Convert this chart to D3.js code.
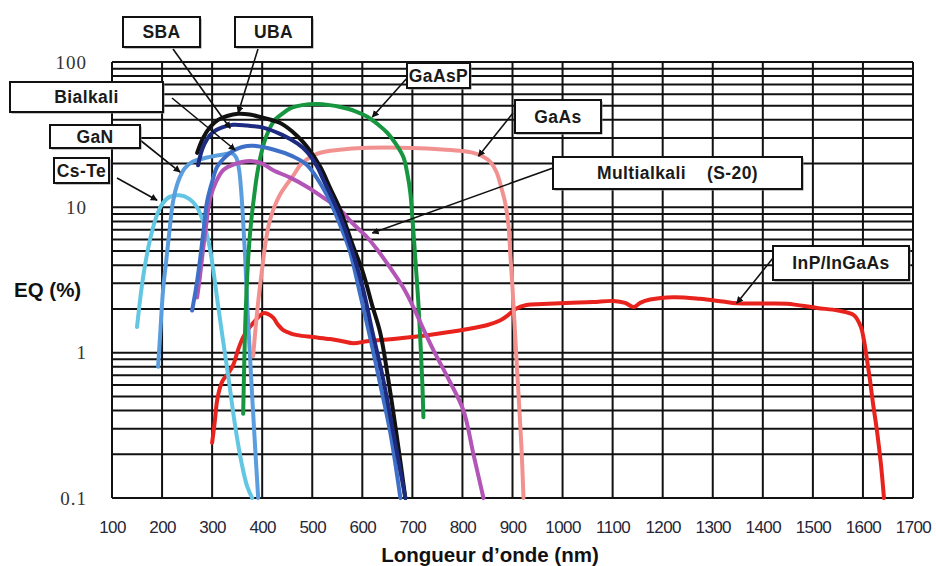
<!DOCTYPE html>
<html>
<head>
<meta charset="utf-8">
<script src="https://cdnjs.cloudflare.com/ajax/libs/d3/7.8.5/d3.min.js"></script>
<style>
  body { margin: 0; background: #fff; }
  svg { display: block; }
  .boxText { font-family: "Liberation Sans", Arial, sans-serif; font-size: 17.5px; font-weight: bold; letter-spacing: 0.4px; fill: #1a1a1a; white-space: pre; }
</style>
</head>
<body>
<div class="article"></div>
<script>
// quantum efficiency curves, [wavelength nm, QE %]
var uba = [[270,23.7],[282,30],[296,35.7],[312,40],[330,42.5],[352,44],[375,43.5],[396,41.8],[436,38],[470,31],[490,26],[516,19],[536,13.5],[556,9.6],[580,5.6],[602,3.5],[620,2.1],[636,1.36],[652,0.65],[668,0.28],[686,0.1]];
var sba = [[272,19.5],[280,25],[290,29.5],[302,33],[320,35.5],[342,37],[370,36.5],[400,35.5],[440,31.5],[470,27.5],[490,24],[510,19],[522,15.5],[540,11.5],[556,8.6],[580,5],[602,2.7],[620,1.4],[640,0.7],[662,0.28],[686,0.1]];
var bialkali = [[260,1.95],[268,2.8],[276,4.4],[283,7],[290,11],[300,15],[310,19],[325,22],[342,24.5],[360,26],[382,26.5],[422,25],[460,22.5],[490,19.5],[522,13.5],[540,10.2],[556,7.5],[575,5],[596,2.5],[615,1.3],[636,0.6],[656,0.28],[676,0.1]];
var gan = [[192,0.8],[196,1.3],[202,2.7],[208,4.2],[214,6.5],[222,11],[232,15],[245,18.5],[260,20.5],[290,22],[320,23],[340,23.5],[348,22],[354,18],[358,13],[362,8],[366,4.5],[370,2.2],[374,1.2],[380,0.5],[386,0.22],[392,0.1]];
var csTe = [[150,1.5],[158,2.6],[166,4],[176,6],[188,8.5],[200,10.5],[215,11.8],[235,12.1],[255,11.4],[270,10],[282,8],[292,6],[300,4.2],[312,2.1],[322,1.2],[332,0.7],[345,0.33],[358,0.18],[370,0.12],[380,0.1]];
var multialkali = [[270,2.4],[275,3.2],[280,4.5],[288,7.5],[296,11.5],[308,15],[322,18],[345,19.8],[376,20.8],[400,20],[422,18],[456,16],[490,13.8],[520,11.8],[556,9.6],[580,7.8],[610,6.2],[630,5.1],[650,4.1],[682,2.8],[702,2.06],[722,1.45],[742,1.04],[772,0.66],[802,0.4],[822,0.2],[842,0.1]];
var gaasp = [[362,0.38],[364,0.8],[366,1.5],[369,2.8],[373,5],[378,8],[384,12],[390,17],[400,25],[410,32],[424,39.5],[440,44],[456,48],[480,50.5],[510,51.4],[535,50.5],[556,49],[585,46],[610,42],[632,37],[650,32.5],[668,27],[682,22.2],[690,17],[696,12.5],[700,8.5],[704,5.5],[708,3.5],[712,2.2],[716,1.2],[720,0.6],[722,0.36]];
var gaas = [[382,0.95],[387,1.5],[393,2.4],[400,3.8],[406,5.5],[414,7.8],[424,10],[436,12.3],[448,14.2],[462,16.5],[476,19.5],[490,21.5],[505,23],[522,24],[560,25],[600,25.6],[650,25.8],[700,25.6],[760,25],[800,24.4],[822,23.7],[840,22.5],[856,20.5],[868,17.5],[878,13.5],[886,10.5],[892,7.5],[896,4.5],[900,2.8],[904,1.6],[908,0.9],[913,0.45],[918,0.22],[922,0.1]];
var inpIngaas = [[300,0.24],[305,0.33],[310,0.47],[316,0.58],[322,0.65],[332,0.72],[342,0.82],[352,1.05],[362,1.28],[372,1.45],[382,1.6],[392,1.75],[402,1.87],[412,1.84],[422,1.74],[432,1.55],[442,1.43],[456,1.36],[470,1.32],[500,1.28],[536,1.24],[560,1.2],[582,1.16],[610,1.2],[636,1.22],[680,1.26],[730,1.32],[770,1.38],[808,1.45],[850,1.55],[876,1.67],[890,1.8],[906,2.0],[928,2.13],[960,2.16],[1008,2.2],[1060,2.23],[1102,2.27],[1125,2.2],[1142,2.06],[1155,2.2],[1175,2.32],[1222,2.41],[1274,2.35],[1320,2.25],[1348,2.19],[1400,2.18],[1448,2.17],[1508,2.03],[1550,1.95],[1582,1.81],[1596,1.5],[1602,1.22],[1608,0.9],[1614,0.65],[1620,0.45],[1628,0.29],[1636,0.17],[1642,0.1]];

// axis ticks
var xTicks = [100,200,300,400,500,600,700,800,900,1000,1100,1200,1300,1400,1500,1600,1700];
var yTicks = [0.1, 1, 10, 100];
var yTickLabels = ["0.1", "1", "10", "100"];

// series in drawing order
var series = [
    { name: "InP/InGaAs", data: inpIngaas, color: "#e8221c" },
    { name: "Cs-Te", data: csTe, color: "#63c6e2" },
    { name: "GaN", data: gan, color: "#5b9edf" },
    { name: "GaAs", data: gaas, color: "#f29290" },
    { name: "GaAsP", data: gaasp, color: "#16963f" },
    { name: "Multialkali", data: multialkali, color: "#b355b6" },
    { name: "UBA", data: uba, color: "#111111" },
    { name: "Bialkali", data: bialkali, color: "#3f70c8" },
    { name: "SBA", data: sba, color: "#1c2a80" }
];

// labels: box in px, arrow from px to a point on the curve [nm, %]
var labels = [
    { text: "SBA", box: [123, 17, 77, 30], from: [173, 49], to: [336, 35] },
    { text: "UBA", box: [235, 17, 77, 30], from: [258, 49], to: [352, 44.6] },
    { text: "GaAsP", box: [407, 63, 63, 25], from: [408, 77], to: [620, 41.8] },
    { text: "Bialkali", box: [10, 82, 153, 30], from: [172, 98], to: [346, 24.8] },
    { text: "GaN", box: [50, 125, 90, 23], from: [140, 140], to: [236, 17.5] },
    { text: "Cs-Te", box: [54, 158, 55, 25], from: [117, 178], to: [190, 11.2] },
    { text: "GaAs", box: [515, 100, 86, 33], from: [513, 113], to: [832, 22.5] },
    { text: "Multialkali    (S-20)", box: [553, 157, 249, 32], from: [553, 168], to: [620, 6.65] },
    { text: "InP/InGaAs", box: [773, 246, 136, 34], from: [773, 258], to: [1348, 2.19] }
];

buildChart();

function buildChart() {
    var svgWidth = 936;
    var svgHeight = 566;
    var plot = { left: 112, right: 913, top: 62, bottom: 498 };

    var svg = d3.select(".article").append("svg")
        .attr("width", svgWidth)
        .attr("height", svgHeight);

    var xScale = d3.scaleLinear().domain([100, 1700]).range([plot.left, plot.right]);
    var yScale = d3.scaleLog().domain([0.1, 100]).range([plot.bottom, plot.top]);

    var defs = svg.append("defs");
    defs.append("marker")
        .attr("id", "arrow")
        .attr("viewBox", "0 0 10 10")
        .attr("refX", 9)
        .attr("refY", 5)
        .attr("markerWidth", 7)
        .attr("markerHeight", 7)
        .attr("markerUnits", "userSpaceOnUse")
        .attr("orient", "auto")
        .append("path")
        .attr("d", "M0,0 L10,5 L0,10 z")
        .attr("fill", "#111");

    // grid
    var grid = svg.append("g");
    grid.selectAll(".hline")
        .data(yScale.ticks())
        .enter()
        .append("line")
        .attr("x1", plot.left)
        .attr("x2", plot.right)
        .attr("y1", d => yScale(d))
        .attr("y2", d => yScale(d))
        .attr("stroke", "#111")
        .attr("stroke-width", 2);
    grid.selectAll(".vline")
        .data(xTicks)
        .enter()
        .append("line")
        .attr("x1", d => xScale(d))
        .attr("x2", d => xScale(d))
        .attr("y1", plot.top)
        .attr("y2", plot.bottom)
        .attr("stroke", "#111")
        .attr("stroke-width", 2);

    // axes labels only
    var xAxis = d3.axisBottom(xScale).tickValues(xTicks).tickSize(0).tickPadding(23)
        .tickFormat(d3.format("d"));
    var xg = svg.append("g")
        .attr("transform", `translate(0, ${plot.bottom})`)
        .call(xAxis);
    xg.select(".domain").remove();
    xg.selectAll("text")
        .attr("font-family", "Liberation Sans, Arial, sans-serif")
        .attr("font-size", 17)
        .attr("letter-spacing", "-0.6px")
        .attr("fill", "#262636");

    var yAxis = d3.axisLeft(yScale).tickValues(yTicks).tickSize(0).tickPadding(25)
        .tickFormat((d, i) => yTickLabels[i]);
    var yg = svg.append("g")
        .attr("transform", `translate(${plot.left}, 0)`)
        .call(yAxis);
    yg.select(".domain").remove();
    yg.selectAll("text")
        .attr("font-family", "Liberation Serif, Times New Roman, serif")
        .attr("font-size", 19)
        .attr("letter-spacing", "1px")
        .attr("fill", "#333");

    // curves
    var line = d3.line()
        .x(d => xScale(d[0]))
        .y(d => yScale(d[1]))
        .curve(d3.curveCatmullRom.alpha(0.5));

    svg.append("g")
        .selectAll("path")
        .data(series)
        .enter()
        .append("path")
        .attr("d", d => line(d.data))
        .attr("fill", "none")
        .attr("stroke", d => d.color)
        .attr("stroke-width", 4)
        .attr("stroke-linecap", "round")
        .attr("stroke-linejoin", "round");

    // label boxes and arrows
    var lab = svg.append("g");
    labels.forEach(function(l) {
        lab.append("line")
            .attr("x1", l.from[0])
            .attr("y1", l.from[1])
            .attr("x2", xScale(l.to[0]))
            .attr("y2", yScale(l.to[1]))
            .attr("stroke", "#111")
            .attr("stroke-width", 1.6)
            .attr("marker-end", "url(#arrow)");
    });
    labels.forEach(function(l) {
        lab.append("rect")
            .attr("x", l.box[0] + 1.5)
            .attr("y", l.box[1] + 1.5)
            .attr("width", l.box[2])
            .attr("height", l.box[3])
            .attr("fill", "#888");
        lab.append("rect")
            .attr("x", l.box[0])
            .attr("y", l.box[1])
            .attr("width", l.box[2])
            .attr("height", l.box[3])
            .attr("fill", "#fff")
            .attr("stroke", "#111")
            .attr("stroke-width", 2);
        lab.append("text")
            .attr("class", "boxText")
            .attr("x", l.box[0] + l.box[2] / 2)
            .attr("y", l.box[1] + l.box[3] / 2)
            .attr("dy", "0.36em")
            .attr("text-anchor", "middle")
            .text(l.text);
    });

    // axis titles
    svg.append("text")
        .attr("x", 14)
        .attr("y", 297)
        .attr("font-family", "Liberation Sans, Arial, sans-serif")
        .attr("font-weight", "bold")
        .attr("font-size", 20.5)
        .attr("fill", "#111")
        .text("EQ (%)");

    svg.append("text")
        .attr("x", 490)
        .attr("y", 562)
        .attr("text-anchor", "middle")
        .attr("font-family", "Liberation Sans, Arial, sans-serif")
        .attr("font-weight", "bold")
        .attr("font-size", 20.5)
        .attr("fill", "#111")
        .text("Longueur d\u2019onde (nm)");
}
</script>
</body>
</html>
